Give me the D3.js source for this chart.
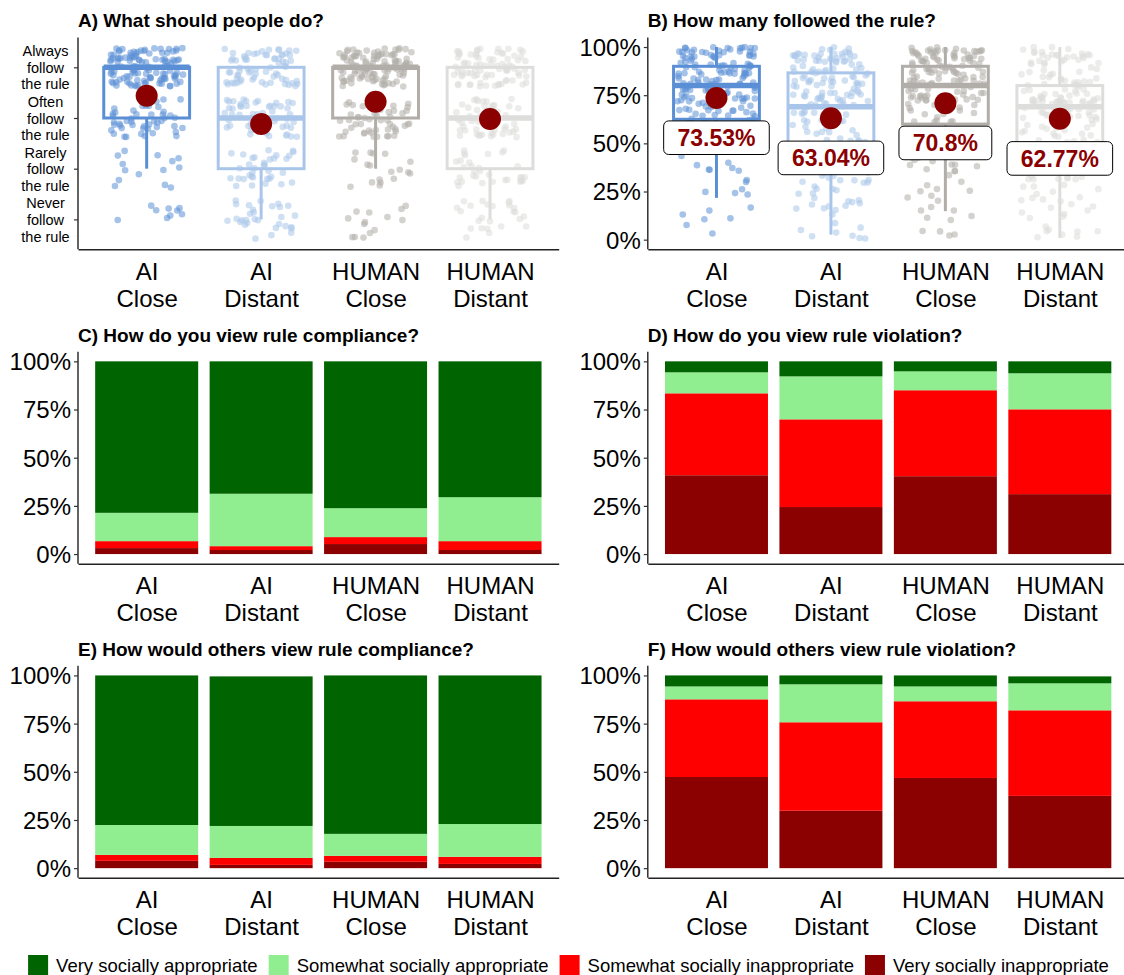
<!DOCTYPE html>
<html><head><meta charset="utf-8">
<script src="https://cdn.jsdelivr.net/npm/d3@7"></script>
<style>
body{margin:0;background:#fff}
svg{display:block;font-family:"Liberation Sans",Arial,Helvetica,sans-serif}
</style>
</head><body>
<svg id="chart" width="1124" height="975"></svg>
<script>
// ---------------- DATA ----------------
const groups = ["AI Close", "AI Distant", "HUMAN Close", "HUMAN Distant"];
const groupColors = ["#5B8FD5", "#A9C6EA", "#B1ADA8", "#DDDDDB"];

// Panel A: response levels 1..4
const levelLabels = [
  ["Never", "follow", "the rule"],
  ["Rarely", "follow", "the rule"],
  ["Often", "follow", "the rule"],
  ["Always", "follow", "the rule"]
];
// counts of answers per level [Never, Rarely, Often, Always]
const aCounts = [[9, 14, 48, 115], [30, 35, 55, 70], [14, 18, 50, 108], [25, 32, 50, 78]];
const aLow  = [2, 1, 2, 1];
const aQ1   = [3, 2, 3, 2];
const aMed  = [4, 3, 4, 3];
const aQ3   = [4, 4, 4, 4];
const aHigh = [4, 4, 4, 4];
const aMean = [3.44, 2.88, 3.32, 2.98];

// Panel B: share who followed the rule (%), counts per 10% bin (0-10 ... 90-100)
const bBins = [
  [2, 5, 4, 8, 8, 14, 25, 38, 38, 48],
  [8, 10, 10, 12, 14, 16, 22, 30, 32, 36],
  [4, 6, 7, 9, 10, 14, 20, 30, 42, 48],
  [8, 9, 10, 12, 14, 18, 26, 38, 22, 28]
];
const bLow  = [21.7, 2.6, 14.8, 0.9];
const bQ1   = [62.5, 45, 60, 45];
const bMed  = [80, 69, 80, 69];
const bQ3   = [90, 86.6, 90, 80];
const bHigh = [100, 100, 100, 100];
const bMean = [73.53, 63.04, 70.8, 62.77];
const bLabels = ["73.53%", "63.04%", "70.8%", "62.77%"];
const pctTicks = [0, 25, 50, 75, 100];

// Stacked panels, segments bottom -> top:
// [Very inappropriate, Somewhat inappropriate, Somewhat appropriate, Very appropriate]
const responseCats = ["Very socially inappropriate", "Somewhat socially inappropriate",
                      "Somewhat socially appropriate", "Very socially appropriate"];
const responseColors = ["#8B0000", "#FF0000", "#90EE90", "#006400"];
const cVals = [[3.1, 3.6, 14.7, 78.6], [2.1, 2.0, 27.2, 68.7], [5.2, 3.6, 15.0, 76.2], [2.1, 4.6, 22.8, 70.5]];
const dVals = [[40.9, 42.5, 10.9, 5.7], [24.4, 45.5, 22.3, 7.8], [40.4, 44.6, 9.8, 5.2], [31.1, 44.0, 18.7, 6.2]];
const eVals = [[3.8, 3.1, 15.5, 77.6], [1.7, 3.6, 16.6, 77.6], [3.3, 3.1, 11.4, 82.2], [2.2, 3.7, 17.0, 77.1]];
const fVals = [[47.3, 40.3, 6.7, 5.7], [29.8, 45.9, 19.7, 4.6], [46.8, 39.8, 7.7, 5.7], [37.5, 44.4, 14.0, 3.6]];
const legendOrder = [3, 2, 1, 0];

const titles = {
  A: "A) What should people do?",
  B: "B) How many followed the rule?",
  C: "C) How do you view rule compliance?",
  D: "D) How do you view rule violation?",
  E: "E) How would others view rule compliance?",
  F: "F) How would others view rule violation?"
};

// ---------------- LAYOUT ----------------
const colX = [[78, 558.7], [647.8, 1128.5]];
const rowY = [[37.4, 249.3], [351.7, 563.7], [665.8, 877.8]];
const svg = d3.select("#chart");
const frac = v => v - Math.floor(v);
// deterministic jitter offset in [-1, 1] (placement only, not data)
const jit = (k, s) => frac(Math.sin(k * 127.1 + s * 311.7) * 43758.5453) * 2 - 1;

function makeX(c) { return d3.scaleLinear().domain([0.4, 4.6]).range(colX[c]); }
function pctY(r) { return d3.scaleLinear().domain([-5, 105]).range([rowY[r][1], rowY[r][0]]); }

function drawFrame(c, r, x, y, yAxisFn, title) {
  const g = svg.append("g");
  g.append("text").attr("x", colX[c][0]).attr("y", rowY[r][0] - 10)
    .attr("font-size", 19).attr("font-weight", "bold").attr("fill", "#000").text(title);
  const ya = g.append("g").attr("transform", `translate(${colX[c][0]},0)`).call(yAxisFn);
  ya.select(".domain").attr("stroke", "#222").attr("stroke-width", 1.4);
  ya.selectAll(".tick line").attr("stroke", "#333").attr("stroke-width", 1.2);
  const xa = g.append("g").attr("transform", `translate(0,${rowY[r][1]})`)
    .call(d3.axisBottom(x).tickValues([1, 2, 3, 4]).tickSize(0).tickSizeOuter(0).tickFormat(""));
  xa.select(".domain").attr("stroke", "#222").attr("stroke-width", 1.4);
  xa.selectAll(".tick").each(function (d, i) {
    const parts = groups[i].split(" ");
    const t = d3.select(this).append("text").attr("fill", "#000").attr("font-size", 24)
      .attr("text-anchor", "middle");
    t.append("tspan").attr("x", 0).attr("y", 30.3).text(parts[0]);
    t.append("tspan").attr("x", 0).attr("y", 57.3).text(parts[1]);
  });
  return g;
}

function pctAxis(y) {
  return g => {
    g.call(d3.axisLeft(y).tickValues(pctTicks).tickFormat(d => d + "%").tickSize(4).tickSizeOuter(0).tickPadding(3));
    g.selectAll(".tick text").attr("font-size", 24).attr("fill", "#000").attr("dy", "0.35em");
    const r = y.range();
    g.select(".domain").attr("d", `M0,${r[0]}V${r[1]}`);
  };
}

function drawBox(g, x, y, gi, lo, q1, med, q3, hi, col) {
  const hw = 0.375;
  const bx = g.append("g").attr("stroke", col).attr("fill", "none");
  if (q1 > lo) bx.append("line").attr("x1", x(gi + 1)).attr("x2", x(gi + 1)).attr("y1", y(q1)).attr("y2", y(lo)).attr("stroke-width", 3);
  if (hi > q3) bx.append("line").attr("x1", x(gi + 1)).attr("x2", x(gi + 1)).attr("y1", y(q3)).attr("y2", y(hi)).attr("stroke-width", 3);
  bx.append("rect").attr("x", x(gi + 1 - hw)).attr("width", x(gi + 1 + hw) - x(gi + 1 - hw))
    .attr("y", y(q3)).attr("height", y(q1) - y(q3)).attr("stroke-width", 3);
  bx.append("line").attr("x1", x(gi + 1 - hw)).attr("x2", x(gi + 1 + hw)).attr("y1", y(med)).attr("y2", y(med)).attr("stroke-width", 5.5);
}

// ---------------- PANEL A ----------------
(function () {
  const x = makeX(0);
  const y = d3.scaleLinear().domain([0.41, 4.59]).range([rowY[0][1], rowY[0][0]]);
  const yAxisFn = g => {
    g.call(d3.axisLeft(y).tickValues([1, 2, 3, 4]).tickFormat("").tickSize(4).tickSizeOuter(0));
    g.select(".domain").attr("d", `M0,${y.range()[0]}V${y.range()[1]}`);
    g.selectAll(".tick").each(function (d) {
      const t = d3.select(this).append("text").attr("font-size", 14.5).attr("fill", "#000")
        .attr("text-anchor", "middle");
      levelLabels[d - 1].forEach((s, j) => {
        t.append("tspan").attr("x", -32.5).attr("y", (j - 1) * 16.7 + 5).text(s);
      });
    });
  };
  const g = drawFrame(0, 0, x, y, yAxisFn, titles.A);

  groups.forEach((grp, gi) => {
    const col = groupColors[gi];
    const pts = [];
    let k = 0;
    aCounts[gi].forEach((n, li) => {
      for (let j = 0; j < n; j++) {
        k++;
        pts.push({ lvl: li + 1, jx: jit(k + gi * 1000, 1), jy: jit(k + gi * 1000, 2) });
      }
    });
    g.append("g").selectAll("circle").data(pts).join("circle")
      .attr("cx", d => x(gi + 1 + d.jx * 0.32))
      .attr("cy", d => y(d.lvl + d.jy * 0.38))
      .attr("r", 3.3).attr("fill", col).attr("fill-opacity", 0.55);
    drawBox(g, x, y, gi, aLow[gi], aQ1[gi], aMed[gi], aQ3[gi], aHigh[gi], col);
    g.append("circle").attr("cx", x(gi + 1)).attr("cy", y(aMean[gi])).attr("r", 11).attr("fill", "#8B0000");
  });
})();

// ---------------- PANEL B ----------------
(function () {
  const x = makeX(1);
  const y = pctY(0);
  const g = drawFrame(1, 0, x, y, pctAxis(y), titles.B);
  groups.forEach((grp, gi) => {
    const col = groupColors[gi];
    const pts = [];
    let k = 0;
    bBins[gi].forEach((n, bi) => {
      for (let j = 0; j < n; j++) {
        k++;
        pts.push({ v: bi * 10 + 5 + 5 * jit(k + gi * 1000, 3), jx: jit(k + gi * 1000, 4) });
      }
    });
    g.append("g").selectAll("circle").data(pts).join("circle")
      .attr("cx", d => x(gi + 1 + d.jx * 0.34))
      .attr("cy", d => y(d.v))
      .attr("r", 3.3).attr("fill", col).attr("fill-opacity", 0.55);
    drawBox(g, x, y, gi, bLow[gi], bQ1[gi], bMed[gi], bQ3[gi], bHigh[gi], col);
    g.append("circle").attr("cx", x(gi + 1)).attr("cy", y(bMean[gi])).attr("r", 11).attr("fill", "#8B0000");
  });
  groups.forEach((grp, gi) => {
    const cy = y(bMean[gi] - 20.6);
    const lg = g.append("g").attr("transform", `translate(${x(gi + 1)},${cy})`);
    const rect = lg.append("rect");
    const t = lg.append("text").attr("text-anchor", "middle").attr("y", 8.3)
      .attr("font-size", 23).attr("font-weight", "bold").attr("fill", "#8B0000").text(bLabels[gi]);
    const w = t.node().getComputedTextLength() + 27.6, h = 33.6;
    rect.attr("x", -w / 2).attr("y", -h / 2).attr("width", w).attr("height", h)
      .attr("rx", 5).attr("fill", "#fff").attr("stroke", "#000").attr("stroke-width", 1);
  });
})();

// ---------------- STACKED PANELS ----------------
function stackedPanel(c, r, vals, title) {
  const x = makeX(c);
  const y = pctY(r);
  const g = drawFrame(c, r, x, y, pctAxis(y), title);
  const rows = vals.map((v, gi) => {
    const o = { grp: gi };
    responseCats.forEach((cat, ci) => o[cat] = v[ci]);
    return o;
  });
  const series = d3.stack().keys(responseCats)(rows);
  g.insert("g", ":first-child").selectAll("g").data(series).join("g")
    .attr("fill", (d, i) => responseColors[i])
    .selectAll("rect").data(d => d).join("rect")
    .attr("x", d => x(d.data.grp + 1 - 0.45))
    .attr("width", d => x(d.data.grp + 1 + 0.45) - x(d.data.grp + 1 - 0.45))
    .attr("y", d => y(d[1]))
    .attr("height", d => y(d[0]) - y(d[1]));
}
stackedPanel(0, 1, cVals, titles.C);
stackedPanel(1, 1, dVals, titles.D);
stackedPanel(0, 2, eVals, titles.E);
stackedPanel(1, 2, fVals, titles.F);

// ---------------- LEGEND ----------------
(function () {
  const lg = svg.append("g");
  let cx = 0;
  legendOrder.forEach(ci => {
    const it = lg.append("g").attr("transform", `translate(${cx},0)`);
    it.append("rect").attr("x", 0).attr("y", 955).attr("width", 20).attr("height", 20).attr("fill", responseColors[ci]);
    const t = it.append("text").attr("x", 28).attr("y", 971.5).attr("font-size", 18.5).attr("fill", "#000").text(responseCats[ci]);
    cx += 28 + t.node().getComputedTextLength() + 11;
  });
  const total = cx - 11;
  lg.attr("transform", `translate(${568.5 - total / 2},0)`);
})();
</script>
</body></html>
